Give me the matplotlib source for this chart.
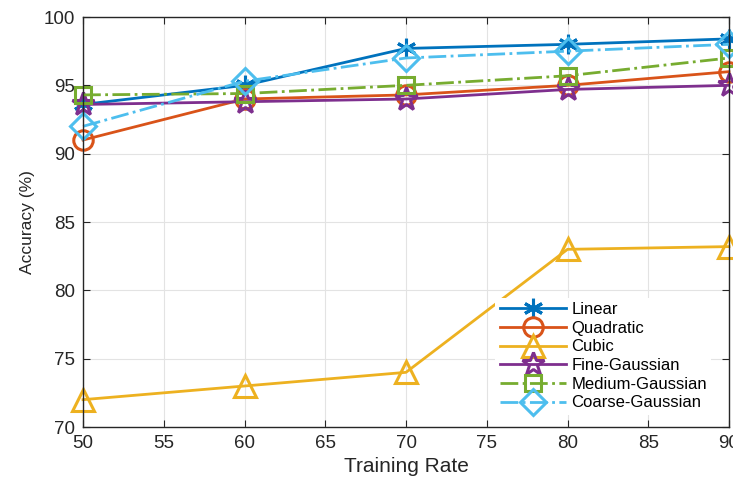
import matplotlib
matplotlib.use("Agg")
import matplotlib.pyplot as plt

plt.rcParams["font.family"] = ["Liberation Sans", "DejaVu Sans"]

# Accuracy (%) of each classifier against the training rate (%)
rates = [50, 60, 70, 80, 90]
linear = [93.6, 95.0, 97.7, 98.0, 98.4]
quadratic = [91.0, 94.0, 94.3, 95.0, 96.0]
cubic = [72.0, 73.0, 74.0, 83.0, 83.2]
fine_gauss = [93.6, 93.8, 94.0, 94.7, 95.0]
medium_gauss = [94.3, 94.4, 95.0, 95.7, 97.0]
coarse_gauss = [92.0, 95.3, 97.0, 97.5, 98.0]

series = [
    ("Linear", linear, "#0072BD", "-", (6, 2, 0), 14),
    ("Quadratic", quadratic, "#D95319", "-", "o", 14),
    ("Cubic", cubic, "#EDB120", "-", "^", 16),
    ("Fine-Gaussian", fine_gauss, "#7E2F8E", "-", "*", 17),
    ("Medium-Gaussian", medium_gauss, "#77AC30", "-.", "s", 12),
    ("Coarse-Gaussian", coarse_gauss, "#4DBEEE", "-.", "D", 13),
]

fig = plt.figure(figsize=(7.33, 4.82), dpi=100)
ax = fig.add_axes([83 / 733, 55 / 482, 646 / 733, 410 / 482])

for label, vals, color, ls, marker, ms in series:
    ax.plot(rates, vals, ls=ls, color=color, lw=2, marker=marker, ms=ms,
            mfc="none", mec=color, mew=2.2, label=label, clip_on=False)

ax.set_xlim(50, 90)
ax.set_ylim(70, 100)
ax.set_xticks(range(50, 91, 5))
ax.set_yticks(range(70, 101, 5))
ax.grid(True, color="#e3e3e3", lw=0.8)
ax.set_axisbelow(True)
ax.tick_params(direction="in", top=True, right=True, length=5, pad=6,
               labelsize=13.5, colors="#262626")
for s in ax.spines.values():
    s.set_color("#262626")
    s.set_linewidth(1.0)

ax.set_xlabel("Training Rate", fontsize=15, color="#262626", labelpad=3)
ax.set_ylabel("Accuracy (%)", fontsize=12.5, color="#262626", labelpad=6)

leg = ax.legend(loc="lower right", bbox_to_anchor=(0.985, 0.01), fontsize=12,
                frameon=True, fancybox=False, edgecolor="none",
                facecolor="white", framealpha=1, handlelength=4.0,
                labelspacing=0.22, handletextpad=0.3, borderpad=0.25)

fig.savefig("out.png", dpi=100)
